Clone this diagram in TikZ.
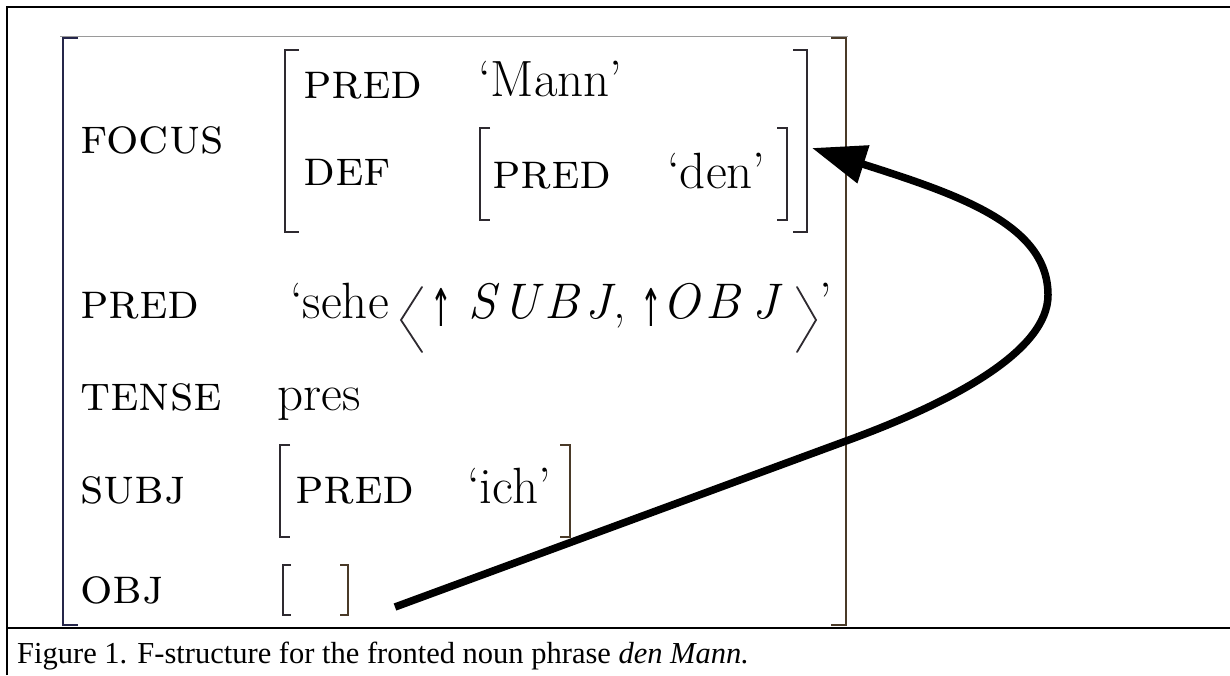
\documentclass[tikz,border=0pt]{standalone}
\usepackage{graphicx}
\usepackage{fontspec}
\newfontfamily\capfont{Liberation Serif}
\newfontfamily\symfont{DejaVu Sans}
\usetikzlibrary{arrows.meta}
\definecolor{navyb}{HTML}{25264A}
\definecolor{brownb}{HTML}{4A3A28}
\definecolor{darkb}{HTML}{2E2A30}
\definecolor{greyl}{HTML}{9A9A9A}
\newcommand{\narrowup}{\scalebox{0.5}[1]{↑}}
\begin{document}
\begin{tikzpicture}[x=1pt,y=-1pt,
  lbl/.style={anchor=base west, inner sep=0pt, font=\fontsize{51}{51}\selectfont\scshape},
  val/.style={anchor=base west, inner sep=0pt, font=\fontsize{51}{51}\selectfont},
  ital/.style={anchor=base west, inner sep=0pt, font=\fontsize{50}{50}\selectfont\itshape},
  arr/.style={anchor=base west, inner sep=0pt, font=\fontsize{52}{52}\selectfont\symfont},
  brk/.style={line width=2.6pt, line cap=butt, line join=miter},
  ang/.style={line width=1.8pt, line cap=round, line join=miter, darkb},
  frm/.style={line width=2.2pt, black},
  conn/.style={line width=7.5pt, black, -{Triangle[length=54pt,width=38pt]}}]
\useasboundingbox (0,0) rectangle (1230,675);
% frame of the table
\draw[frm] (7,675) -- (7,7) -- (1230,7);
\draw[frm] (7,628) -- (1230,628);
\draw[greyl, line width=0.8pt] (60,36) -- (848,36);
% outer brackets
\draw[brk, navyb] (78,38) -- (63,38) -- (63,625) -- (78,625);
\draw[brk, brownb] (831,38) -- (846,38) -- (846,625) -- (831,625);
% focus brackets
\draw[brk, darkb] (299,50) -- (285,50) -- (285,232) -- (299,232);
\draw[brk, darkb] (793,50) -- (807,50) -- (807,232) -- (793,232);
% def brackets
\draw[brk, line width=2pt, darkb] (490,128) -- (480,128) -- (480,220) -- (490,220);
\draw[brk, line width=2pt, darkb] (777,128) -- (787,128) -- (787,220) -- (777,220);
% subj brackets
\draw[brk, line width=2pt, darkb] (290,445) -- (280,445) -- (280,537) -- (290,537);
\draw[brk, line width=2pt, brownb] (560,445) -- (570,445) -- (570,537) -- (560,537);
% obj brackets
\draw[brk, line width=2pt, darkb] (291,565) -- (283,565) -- (283,615) -- (291,615);
\draw[brk, line width=2pt, brownb] (340,565) -- (348,565) -- (348,615) -- (340,615);
% angle brackets of the PRED value
\draw[ang] (422,287) -- (401,320) -- (422,352);
\draw[ang] (797,287) -- (816,320) -- (797,352);
% labels
\node[lbl] (focus) at (80,153) {focus};
\node[lbl] (pred1) at (303,98) {pred};
\node[val] (mann) at (478,96) {`Mann'};
\node[lbl] (def) at (303,185) {def};
\node[lbl] (pred2) at (492,188) {pred};
\node[val] (den) at (667,188) {`den'};
\node[lbl] (pred0) at (80,318) {pred};
\node[val] (sehe) at (290,318) {`sehe};
\node[arr] (up1) at (430,326) {\narrowup};
\node[ital] (subjf) at (468,318) {S\kern7pt U\kern5pt B\kern7pt J\kern2pt\upshape,};
\node[arr] (up2) at (640,326) {\narrowup};
\node[ital] (objf) at (662,318) {O\kern6pt B\kern12pt J};
\node[val] (quote) at (819,318) {'};
\node[lbl] (tense) at (80,410) {tense};
\node[val] (pres) at (277,410) {pres};
\node[lbl] (subj) at (80,503) {subj};
\node[lbl] (pred3) at (295,503) {pred};
\node[val] (ich) at (467,503) {`ich'};
\node[lbl] (obj) at (80,603) {obj};
% connector
\coordinate (objend) at (395,607);
\coordinate (cross) at (846,441);
\coordinate (farright) at (1048,295);
\coordinate (focusend) at (812,148);
\draw[conn] (objend) -- (cross) .. controls (956,401) and (1048,350) .. (farright)
  .. controls (1048,225) and (960,195) .. (focusend);
% caption
\node[anchor=base west, inner sep=0pt, font=\capfont\fontsize{30.5}{30.5}\selectfont] (caption) at (17,663)
  {Figure 1. F-structure for the fronted noun phrase \textit{den Mann.}};
\end{tikzpicture}
\end{document}
